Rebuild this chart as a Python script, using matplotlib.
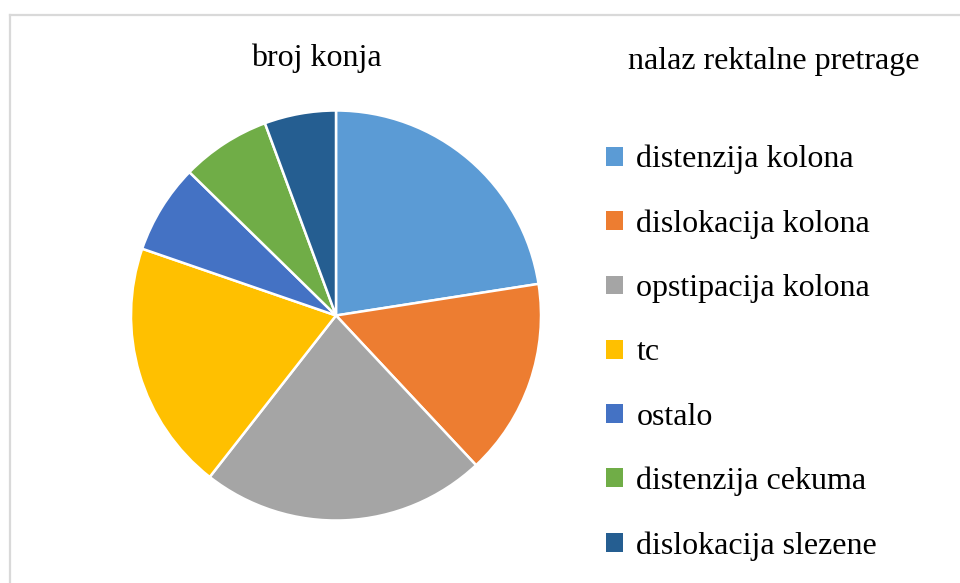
import matplotlib
matplotlib.use("Agg")
import matplotlib.pyplot as plt
from matplotlib.lines import Line2D

# data
categories = ["distenzija kolona", "dislokacija kolona", "opstipacija kolona",
              "tc", "ostalo", "distenzija cekuma", "dislokacija slezene"]
counts = [16, 11, 16, 14, 5, 5, 4]
colors = ["#5B9BD5", "#ED7D31", "#A5A5A5", "#FFC000", "#4472C4", "#70AD47", "#255E91"]

title = "broj konja"
legend_title = "nalaz rektalne pretrage"

plt.rcParams["font.family"] = ["Liberation Serif", "DejaVu Serif"]

W, H = 960, 583
fig = plt.figure(figsize=(W / 100, H / 100), dpi=100)

# light grey chart frame (only top and left edges visible in the crop)
fig.add_artist(Line2D([10 / W, 1], [1 - 15 / H, 1 - 15 / H], color="#D9D9D9", lw=1.6))
fig.add_artist(Line2D([10 / W, 10 / W], [0, 1 - 15 / H], color="#D9D9D9", lw=1.6))

# pie axes: centre ~ (336, 315) px, radius ~ 205 px
cx, cy, r = 336, 315.5, 205
ax = fig.add_axes([(cx - r) / W, (H - cy - r) / H, 2 * r / W, 2 * r / H])
wedges, _ = ax.pie(counts, colors=colors, startangle=90, counterclock=False,
                   radius=1.0, wedgeprops=dict(edgecolor="white", linewidth=1.8))
ax.set_xlim(-1.0, 1.0)
ax.set_ylim(-1.0, 1.0)
ax.set_aspect("equal")
ax.axis("off")
for w in wedges:
    w.set_clip_on(False)

fig.text(316 / W, 1 - 58 / H, title, ha="center", va="center", fontsize=23, color="black")
fig.text(774 / W, 1 - 62 / H, legend_title, ha="center", va="center", fontsize=23, color="black")

leg = fig.legend(wedges, categories, loc="upper left",
                 bbox_to_anchor=(606 / W, 1 - 145 / H), frameon=False,
                 fontsize=23, handlelength=0.53, handleheight=0.53,
                 handletextpad=0.42, labelspacing=1.1, borderaxespad=0, borderpad=0)
for h in leg.legend_handles:
    h.set_edgecolor("none")

fig.savefig("out.png", dpi=100)
